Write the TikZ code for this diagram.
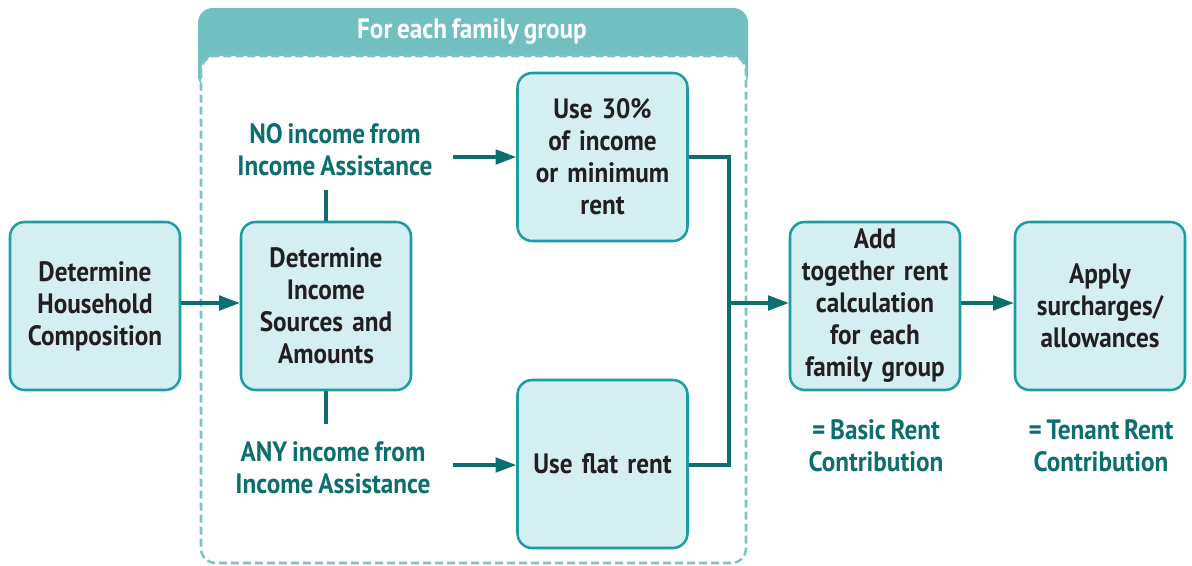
\documentclass[tikz,border=0pt]{standalone}
\usepackage{fontspec}
\setmainfont{PT Sans}[FakeStretch=0.9,WordSpace=0.75]
\usetikzlibrary{arrows.meta}

\definecolor{boxfill}{HTML}{D5EEF1}
\definecolor{boxline}{HTML}{1A9EA3}
\definecolor{arrteal}{HTML}{0D6E70}
\definecolor{headteal}{HTML}{72BFC1}
\definecolor{dashteal}{HTML}{7CC5C7}
\definecolor{boxtext}{HTML}{231F20}

\tikzset{every picture/.style={line width=0.75pt}}
\tikzset{
  stepbox/.style={draw=boxline, fill=boxfill, line width=1.9pt, rounded corners=11pt,
    minimum width=127.5pt, minimum height=126pt, text width=118pt, align=center,
    font=\fontsize{21}{24}\selectfont\bfseries, text=boxtext},
  lbl/.style={align=center, text=arrteal, font=\fontsize{21}{24}\selectfont\bfseries},
  arr/.style={draw=arrteal, line width=2.3pt, -{Triangle[length=15.5pt,width=11pt]}},
  conn/.style={draw=arrteal, line width=2.3pt}
}

\begin{document}
\begin{tikzpicture}[x=0.75pt,y=0.75pt,yscale=-1,xscale=1]
\useasboundingbox (0,0) rectangle (1192,565);

% Group frame
\fill [headteal, rounded corners=11pt] (198,8) rectangle (748,90);
\draw [dashteal, fill=white, line width=1.9pt, dash pattern=on 6pt off 3pt, rounded corners=11pt] (201,56) rectangle (746,563);
\node (grphead) at (472,32) [font=\fontsize{21}{24}\selectfont\bfseries, text=white] {For each family group};

% Boxes
\node (hhcomp) at (95,306) [stepbox] {Determine\\Household\\Composition};
\node (incsrc) at (326,306) [stepbox] {Determine\\Income\\Sources and\\Amounts};
\node (pct30) at (602.5,157) [stepbox] {Use 30\%\\of income\\or minimum\\rent};
\node (flat) at (602.5,464) [stepbox] {Use flat rent};
\node (addtog) at (875,306) [stepbox] {Add\\together rent\\calculation\\for each\\family group};
\node (apply) at (1100,306) [stepbox] {Apply\\surcharges/\\allowances};

% Text Node
\node (noinc) at (335,150) [lbl] {NO income from\\Income Assistance};
\node (anyinc) at (333,468) [lbl] {ANY income from\\Income Assistance};
\node (basic) at (876,446) [lbl] {= Basic Rent\\Contribution};
\node (tenant) at (1101,446) [lbl] {= Tenant Rent\\Contribution};

\coordinate (join) at (729,303);

% Connectors
\draw [arr] (hhcomp.east |- 0,303) -- (incsrc.west |- 0,303);
\draw [conn] (incsrc.north) -- (incsrc.north |- 0,190);
\draw [conn] (incsrc.south) -- (incsrc.south |- 0,424);
\draw [arr] (453,157) coordinate (noarr) -- (pct30.west);
\draw [arr] (453,465) coordinate (anyarr) -- (flat.west |- anyarr);
\draw [conn] (pct30.east) -| (join) |- (flat.east |- anyarr);
\draw [arr] (join) -- (addtog.west |- join);
\draw [arr] (addtog.east |- join) -- (apply.west |- join);

\end{tikzpicture}
\end{document}
